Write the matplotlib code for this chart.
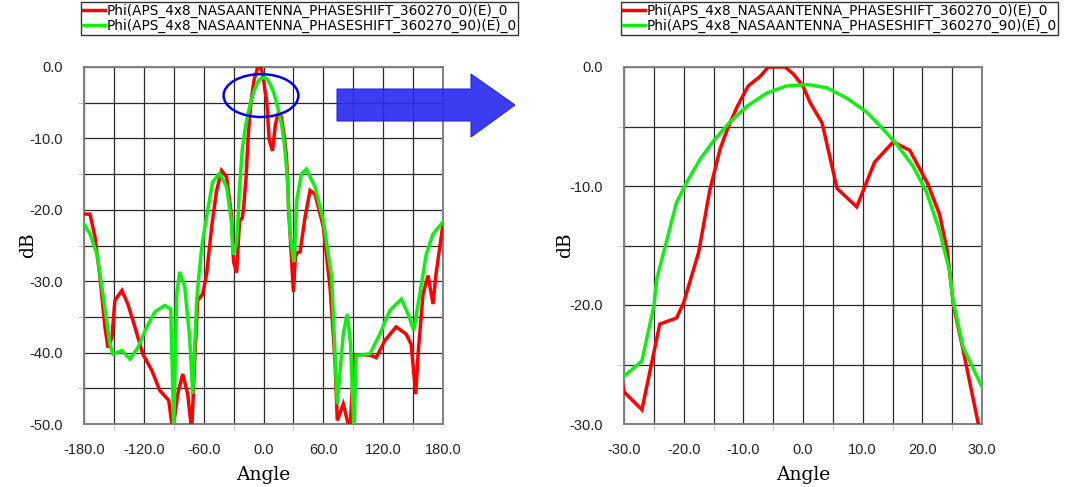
import numpy as np
import matplotlib.pyplot as plt
from matplotlib.patches import Ellipse, Polygon
from matplotlib.ticker import MultipleLocator, FormatStrFormatter

# ----- Data -----
red_angle = [-180, -174, -169, -164, -159, -156, -152, -149, -142, -136, -129, -121,
             -112, -104, -95, -91, -86, -81, -76, -72, -69, -66, -61, -57, -52, -47,
             -42, -37, -32, -30, -27, -24, -21.2, -20, -17.5, -15.6, -13.9, -12.5,
             -11, -9.2, -7.2, -5.8, -3, -1.6, 0, 1.2, 3.2, 5.7, 9, 12, 15.1, 17.9,
             20.9, 22.9, 24.2, 25.2, 26.8, 30, 32, 34, 36.7, 41.7, 46.7, 51.7, 60,
             66.7, 71.7, 74, 80, 86.7, 91, 100, 108, 113, 121.7, 133, 143, 148,
             152.7, 155, 160, 165, 170, 173, 180]
red_db = [-20.6, -20.6, -23.8, -29.4, -36.4, -39.3, -37.9, -32.7, -31.3, -33.2, -36.4,
          -40.2, -42.5, -45.3, -46.7, -51, -45.8, -43, -45.8, -51, -41.1, -32.7, -31.8,
          -29, -22.4, -17.3, -14.5, -15.4, -21, -27.3, -28.8, -21.6, -21.1, -19.8,
          -15.6, -10.3, -6.9, -5, -3.3, -1.6, -0.8, 0, 0, -0.6, -1.6, -3, -4.7, -10.2,
          -11.75, -8, -6.3, -7, -9.8, -12.4, -15.5, -20, -23.7, -31.5, -26.6, -26,
          -25.9, -21, -17.3, -17.8, -22.4, -30.8, -41.1, -49.5, -47.2, -51, -40.3,
          -40.3, -40.4, -40.7, -38.3, -36.4, -37.4, -38.8, -45.8, -40.2, -31.8, -29.2,
          -33.2, -29, -22]

green_angle = [-180, -174, -167, -161, -154, -151, -142, -134, -126, -117, -109, -99,
               -93, -90, -87, -84, -79, -74, -71, -67, -64, -61, -56, -51, -44, -37,
               -32.3, -30.5, -30, -27, -25, -24.5, -22.8, -21.2, -19.5, -17.3, -15,
               -12.2, -9.4, -6.1, -2.8, 0, 1.2, 4, 7.3, 10.7, 13.4, 15.7, 18.4, 20.7,
               22.9, 24.6, 25.1, 26.8, 30, 30.8, 33.3, 38, 43, 51.7, 60, 68.3, 74, 80,
               84, 87.3, 90.7, 93, 106.7, 116.7, 126.7, 138.3, 145, 150.7, 156.7,
               163.3, 170, 180]
green_db = [-22, -23.4, -26.2, -31.8, -38.8, -40.2, -39.7, -40.9, -39.3, -36.4, -34.3,
            -33.4, -33.9, -51, -31.8, -28.7, -30.8, -37.9, -45.8, -32.7, -28, -24.3,
            -20.1, -16.1, -14.9, -16.8, -21.5, -26.3, -26, -24.7, -20.1, -17.8, -14.5,
            -11.4, -9.7, -7.8, -6.2, -4.6, -3.3, -2.2, -1.6, -1.5, -1.5, -1.75, -2.6,
            -3.8, -5.2, -6.5, -8.3, -10.5, -13.8, -17.2, -19.5, -23.5, -26.9, -27.3,
            -18.7, -15, -14.3, -16.8, -21.5, -29.4, -47.2, -37.4, -34.6, -38.8, -51,
            -40.4, -40.2, -37.4, -34.1, -32.5, -34.6, -36.9, -31.8, -26.2, -23.4, -21.7]

legend_labels = ['Phi(APS_4x8_NASAANTENNA_PHASESHIFT_360270_0)(E)_0',
                 'Phi(APS_4x8_NASAANTENNA_PHASESHIFT_360270_90)(E)_0']

RED = '#ff0000'
GREEN = '#11ee11'
W, H = 1080, 487

fig = plt.figure(figsize=(W / 100, H / 100), dpi=100)


def px_box(x0, y0, x1, y1):
    # pixel box (top-left origin) -> figure fraction [l, b, w, h]
    return [x0 / W, 1 - y1 / H, (x1 - x0) / W, (y1 - y0) / H]


ax_l = fig.add_axes(px_box(84, 67, 443, 424))
ax_r = fig.add_axes(px_box(624, 67, 982, 424))


def style(ax, xlim, ylim, xmaj, xmin, ymaj, ymin, ylab_x):
    ax.plot(red_angle, red_db, color=RED, lw=2.5, label=legend_labels[0],
            solid_joinstyle='miter', zorder=3)
    ax.plot(green_angle, green_db, color=GREEN, lw=2.5, label=legend_labels[1],
            solid_joinstyle='miter', zorder=3)
    ax.set_xlim(*xlim)
    ax.set_ylim(*ylim)
    ax.xaxis.set_major_locator(MultipleLocator(xmaj))
    ax.xaxis.set_minor_locator(MultipleLocator(xmin))
    ax.yaxis.set_major_locator(MultipleLocator(ymaj))
    ax.yaxis.set_minor_locator(MultipleLocator(ymin))
    ax.xaxis.set_major_formatter(FormatStrFormatter('%.1f'))
    ax.yaxis.set_major_formatter(FormatStrFormatter('%.1f'))
    ax.grid(True, which='both', color='#2a2a2a', lw=0.9)
    ax.set_axisbelow(True)
    ax.tick_params(which='major', length=0, labelsize=10.5, labelcolor='#222222')
    ax.tick_params(axis='x', which='major', pad=14)
    ax.tick_params(axis='y', which='major', pad=15)
    ax.tick_params(which='minor', length=4, color='#bbbbbb')
    for lbl in ax.get_xticklabels() + ax.get_yticklabels():
        lbl.set_family('Liberation Sans')
    for sp in ax.spines.values():
        sp.set_color('#808080')
        sp.set_linewidth(1.4)
    ax.set_xlabel('Angle', family='DejaVu Serif', fontsize=13.5, va='center')
    ax.set_ylabel('dB', family='DejaVu Serif', fontsize=13.5, va='center')
    ax.xaxis.set_label_coords(0.5, -0.143)
    ax.yaxis.set_label_coords(ylab_x, 0.5)
    ax.legend(loc='upper left', bbox_to_anchor=(ax.get_position().x0 - 3 / W, 1 - 2 / H),
              bbox_transform=fig.transFigure, frameon=True, fancybox=False,
              edgecolor='#333333', framealpha=1, handlelength=1.6,
              handletextpad=0.1, borderpad=0.15, labelspacing=0.05,
              prop={'family': 'DejaVu Sans', 'size': 9.8}, borderaxespad=0)


style(ax_l, (-180, 180), (-50, 0), 60, 30, 10, 5, -0.155)
style(ax_r, (-30, 30), (-30, 0), 10, 5, 10, 5, -0.165)

# zoom marker on the main lobe
ax_l.add_patch(Ellipse((-2.5, -4.0), 75, 6.0, fill=False, edgecolor='#0000ee',
                       lw=1.8, zorder=5, clip_on=False))

# arrow between the panels
arrow_px = [(337, 89), (471, 89), (471, 74), (515, 105), (471, 137), (471, 121), (337, 121)]
arrow = Polygon([(x / W, 1 - y / H) for x, y in arrow_px], closed=True,
                transform=fig.transFigure, facecolor='#2b2bf0', edgecolor='#2020e0',
                alpha=0.92, lw=0.8, zorder=10)
fig.patches.append(arrow)

fig.savefig('out.png', dpi=100)
